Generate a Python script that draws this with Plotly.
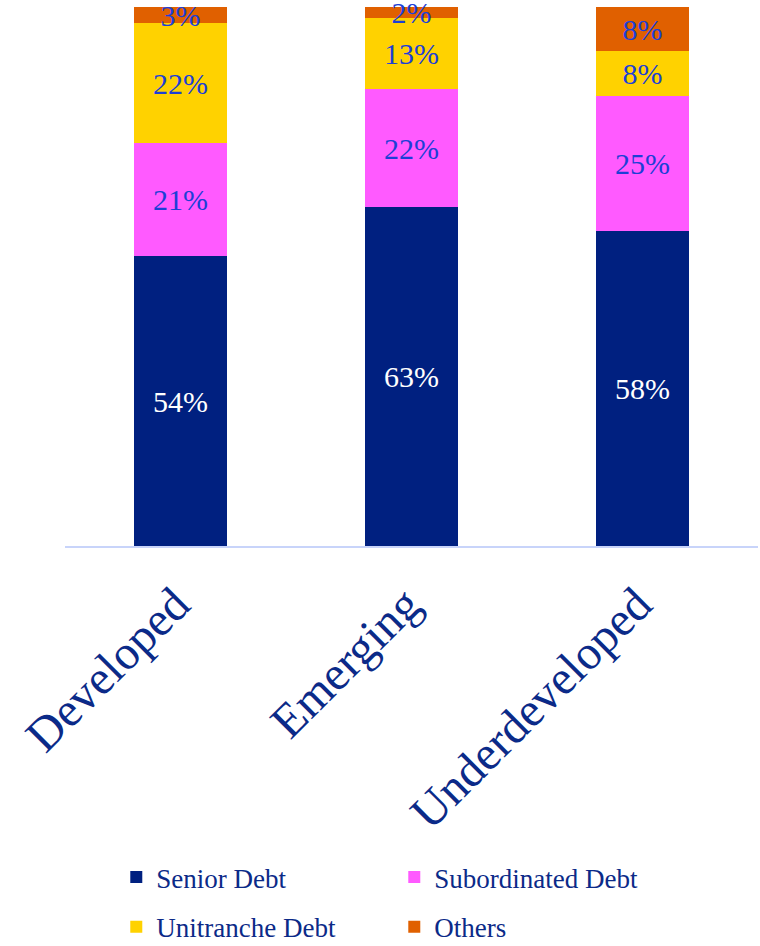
import plotly.graph_objects as go

categories = ["Developed", "Emerging", "Underdeveloped"]
series_names = ["Senior Debt", "Subordinated Debt", "Unitranche Debt", "Others"]
senior = [53.8, 62.9, 58.4]
subordinated = [21.0, 21.9, 25.2]
unitranche = [22.2, 13.2, 8.2]
others = [3.0, 2.0, 8.2]
senior_labels = ["54%", "63%", "58%"]
subordinated_labels = ["21%", "22%", "25%"]
unitranche_labels = ["22%", "13%", "8%"]
others_labels = ["3%", "2%", "8%"]

colors = ["#002080", "#FF5AFF", "#FFD200", "#E06000"]
label_colors = ["#FFFFFF", "#1C3FD6", "#1C3FD6", "#1C3FD6"]
legends = ["legend", "legend", "legend2", "legend2"]
values = [senior, subordinated, unitranche, others]
labels = [senior_labels, subordinated_labels, unitranche_labels, others_labels]

FONT = "Liberation Serif, Times New Roman, serif"

fig = go.Figure()
for name, vals, txt, col, tcol, lg in zip(series_names, values, labels, colors, label_colors, legends):
    fig.add_trace(go.Bar(
        x=categories, y=vals, name=name, text=txt,
        textposition="inside", insidetextanchor="middle", textangle=0,
        constraintext="none",
        textfont=dict(family=FONT, size=30, color=tcol),
        marker=dict(color=col, line=dict(width=0)),
        width=0.4, legend=lg, hoverinfo="skip", cliponaxis=False,
    ))

fig.update_layout(
    barmode="stack",
    width=760, height=946,
    margin=dict(l=65, r=2, t=7, b=400, autoexpand=False),
    paper_bgcolor="white", plot_bgcolor="white",
    uniformtext=dict(mode="show", minsize=30),
    showlegend=True,
    legend=dict(orientation="h", x=0.074, xanchor="left", y=-0.5696, yanchor="top",
                traceorder="normal",
                font=dict(family=FONT, size=27, color="#0B2A88"),
                entrywidth=233, entrywidthmode="pixels", itemclick=False),
    legend2=dict(orientation="h", x=0.074, xanchor="left", y=-0.662, yanchor="top",
                 traceorder="normal",
                 font=dict(family=FONT, size=27, color="#0B2A88"),
                 entrywidth=233, entrywidthmode="pixels", itemclick=False),
)
fig.update_xaxes(
    tickangle=-45, tickfont=dict(family=FONT, size=48, color="#0B2A88"),
    showline=True, linecolor="#C8D4FA", linewidth=2, ticks="", showgrid=False,
    automargin=False, ticklabelstandoff=9, ticklabelshift=-5,
)
fig.update_yaxes(range=[0, 100.05], visible=False, showgrid=False, automargin=False)

# remove the browser's default 8px page margin so the figure fills the window
fig.write_html("out.html", config={"displayModeBar": False},
               post_script="document.body.style.margin='0px';")
